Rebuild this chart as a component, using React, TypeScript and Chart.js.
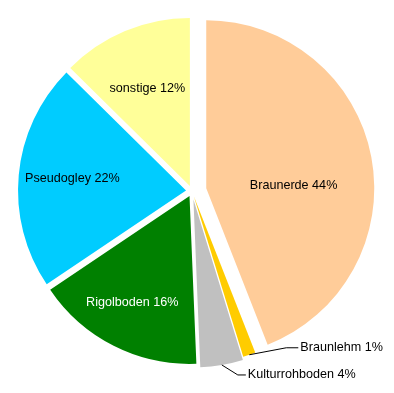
import React, { useEffect, useRef } from "react";
import { Chart, registerables } from "chart.js";

Chart.register(...registerables);

const categories = ["Braunerde", "Braunlehm", "Kulturrohboden", "Rigolboden", "Pseudogley", "sonstige"];
const shares = [44, 1.2, 4.1, 16.2, 21.8, 12.6];
const percentLabels = ["44%", "1%", "4%", "16%", "22%", "12%"];

const colors = ["#FFCC99", "#FFCC00", "#C0C0C0", "#008000", "#00CCFF", "#FFFF99"];
const textColors = ["#000000", "#000000", "#000000", "#FFFFFF", "#000000", "#000000"];
// explosion distance of each slice (px)
const explode = [14.5, 5.5, 8.5, 5.5, 6, 5.5];
// inside label placement: radius fraction and angular tweak (deg); null = outside label
const insidePlacement: ({ rf: number; da: number } | null)[] = [
  { rf: 0.52, da: 9 },
  null,
  null,
  { rf: 0.72, da: 1.4 },
  { rf: 0.68, da: 0.5 },
  { rf: 0.63, da: -1 },
];
// outside labels: elbow offset from rim point and horizontal tail length
const outsidePlacement: ({ dx: number; dy: number; tail: number } | null)[] = [
  null,
  { dx: 37, dy: -7, tail: 12 },
  { dx: 16, dy: 10, tail: 8 },
  null,
  null,
  null,
];

const RADIUS = 168;
const FONT = '12.6px "Liberation Sans", Arial, sans-serif';

const explodePlugin = {
  id: "explodeSlices",
  afterDatasetsUpdate(chart: any) {
    const meta = chart.getDatasetMeta(0);
    meta.data.forEach((arc: any, i: number) => {
      const mid = (arc.startAngle + arc.endAngle) / 2;
      arc.x += explode[i] * Math.cos(mid);
      arc.y += explode[i] * Math.sin(mid);
    });
  },
};

const labelPlugin = {
  id: "sliceLabels",
  afterDatasetsDraw(chart: any) {
    const ctx = chart.ctx;
    const meta = chart.getDatasetMeta(0);
    ctx.save();
    ctx.font = FONT;
    ctx.textBaseline = "middle";
    meta.data.forEach((arc: any, i: number) => {
      const mid = (arc.startAngle + arc.endAngle) / 2;
      const text = categories[i] + " " + percentLabels[i];
      const inside = insidePlacement[i];
      if (inside) {
        const a = mid + (inside.da * Math.PI) / 180;
        const r = inside.rf * arc.outerRadius;
        ctx.fillStyle = textColors[i];
        ctx.textAlign = "center";
        ctx.fillText(text, arc.x + r * Math.cos(a), arc.y + r * Math.sin(a));
      } else {
        const out = outsidePlacement[i];
        if (!out) return;
        const rx = arc.x + arc.outerRadius * Math.cos(mid);
        const ry = arc.y + arc.outerRadius * Math.sin(mid);
        const ex = rx + out.dx;
        const ey = ry + out.dy;
        ctx.strokeStyle = "#000000";
        ctx.lineWidth = 1;
        ctx.beginPath();
        ctx.moveTo(rx, ry);
        ctx.lineTo(ex, ey);
        ctx.lineTo(ex + out.tail, ey);
        ctx.stroke();
        ctx.fillStyle = textColors[i];
        ctx.textAlign = "left";
        ctx.fillText(text, ex + out.tail + 2, ey);
      }
    });
    ctx.restore();
  },
};

export default function App() {
  const canvasRef = useRef<HTMLCanvasElement | null>(null);

  useEffect(() => {
    if (!canvasRef.current) return;
    const chart = new Chart(canvasRef.current, {
      type: "pie",
      data: {
        labels: categories,
        datasets: [
          {
            data: shares,
            backgroundColor: colors,
            borderWidth: 0,
            radius: RADIUS,
          } as any,
        ],
      },
      options: {
        responsive: false,
        animation: false,
        events: [],
        layout: { padding: { left: 0, right: 10, top: 0, bottom: 11 } },
        plugins: {
          legend: { display: false },
          tooltip: { enabled: false },
        },
      },
      plugins: [explodePlugin, labelPlugin],
    });
    return () => chart.destroy();
  }, []);

  return (
    <div style={{ position: "absolute", left: 0, top: 0, width: 394, height: 393, background: "#ffffff" }}>
      <canvas ref={canvasRef} width={394} height={393} style={{ width: 394, height: 393, display: "block" }} />
    </div>
  );
}
